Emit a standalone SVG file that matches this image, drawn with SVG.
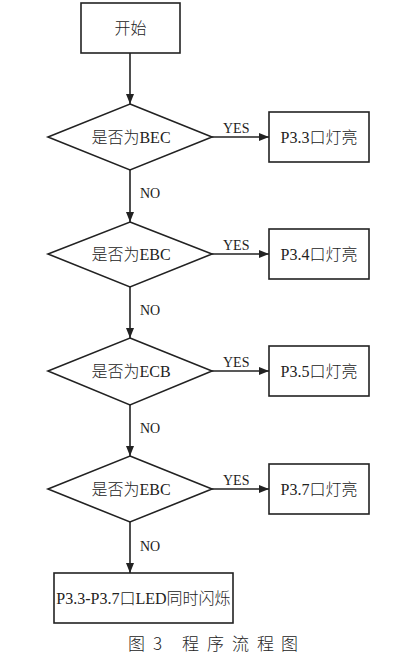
<svg xmlns="http://www.w3.org/2000/svg" width="408" height="666" viewBox="0 0 408 666">
<defs>
<marker id="ah" markerWidth="10" markerHeight="8" refX="10" refY="4" orient="auto" markerUnits="userSpaceOnUse">
<path d="M0,0 L10,4 L0,8 Z" fill="#222"/>
</marker>
<style>
.shape{fill:#fff;stroke:#222;stroke-width:1.6}
.line{fill:none;stroke:#222;stroke-width:1.6;marker-end:url(#ah)}
.t{font-family:"Noto Sans CJK SC",sans-serif;font-weight:300;font-size:16px;fill:#222;text-anchor:middle}
.l{font-family:"Liberation Serif",serif;font-weight:400}
.lbl{font-family:"Liberation Serif",serif;font-size:14px;fill:#222}
.cap{font-family:"Noto Sans CJK SC",sans-serif;font-weight:300;font-size:17px;fill:#222}
</style>
</defs>
<rect width="408" height="666" fill="#fff"/>
<g id="connectors">
<line class="line" x1="130" y1="53" x2="130" y2="104"/>
<line class="line" x1="212" y1="137" x2="269" y2="137"/>
<line class="line" x1="130" y1="170" x2="130" y2="222"/>
<line class="line" x1="212" y1="254" x2="269" y2="254"/>
<line class="line" x1="130" y1="287" x2="130" y2="338"/>
<line class="line" x1="212" y1="371" x2="269" y2="371"/>
<line class="line" x1="130" y1="405" x2="130" y2="456"/>
<line class="line" x1="212" y1="489" x2="269" y2="489"/>
<line class="line" x1="130" y1="522" x2="130" y2="573"/>
<text class="lbl" x="223" y="133">YES</text>
<text class="lbl" x="223" y="250">YES</text>
<text class="lbl" x="223" y="367">YES</text>
<text class="lbl" x="223" y="485">YES</text>
<text class="lbl" x="140" y="198">NO</text>
<text class="lbl" x="140" y="315">NO</text>
<text class="lbl" x="140" y="433">NO</text>
<text class="lbl" x="140" y="551">NO</text>
</g>
<g id="start">
<rect class="shape" x="81" y="3" width="99" height="50"/>
<text class="t" x="130.5" y="34">开始</text>
</g>
<g id="d1">
<polygon class="shape" points="130,104 212,137 130,170 48,137"/>
<text class="t" x="131" y="143">是否为<tspan class="l">BEC</tspan></text>
</g>
<g id="b1">
<rect class="shape" x="269" y="112" width="100" height="50"/>
<text class="t" x="319" y="143"><tspan class="l">P3.3</tspan>口灯亮</text>
</g>
<g id="d2">
<polygon class="shape" points="130,222 212,254 130,287 48,254"/>
<text class="t" x="131" y="260">是否为<tspan class="l">EBC</tspan></text>
</g>
<g id="b2">
<rect class="shape" x="269" y="229" width="100" height="50"/>
<text class="t" x="319" y="260"><tspan class="l">P3.4</tspan>口灯亮</text>
</g>
<g id="d3">
<polygon class="shape" points="130,338 212,371 130,405 48,371"/>
<text class="t" x="131" y="377">是否为<tspan class="l">ECB</tspan></text>
</g>
<g id="b3">
<rect class="shape" x="269" y="346" width="100" height="50"/>
<text class="t" x="319" y="377"><tspan class="l">P3.5</tspan>口灯亮</text>
</g>
<g id="d4">
<polygon class="shape" points="130,456 212,489 130,522 48,489"/>
<text class="t" x="131" y="495">是否为<tspan class="l">EBC</tspan></text>
</g>
<g id="b4">
<rect class="shape" x="269" y="464" width="100" height="50"/>
<text class="t" x="319" y="495"><tspan class="l">P3.7</tspan>口灯亮</text>
</g>
<g id="end">
<rect class="shape" x="54" y="573" width="179" height="50"/>
<text class="t" x="143.5" y="604"><tspan class="l">P3.3-P3.7</tspan>口<tspan class="l">LED</tspan>同时闪烁</text>
</g>
<g id="caption">
<text class="cap" x="128 153 182 207 232 257 281" y="650">图3程序流程图</text>
</g>
</svg>
